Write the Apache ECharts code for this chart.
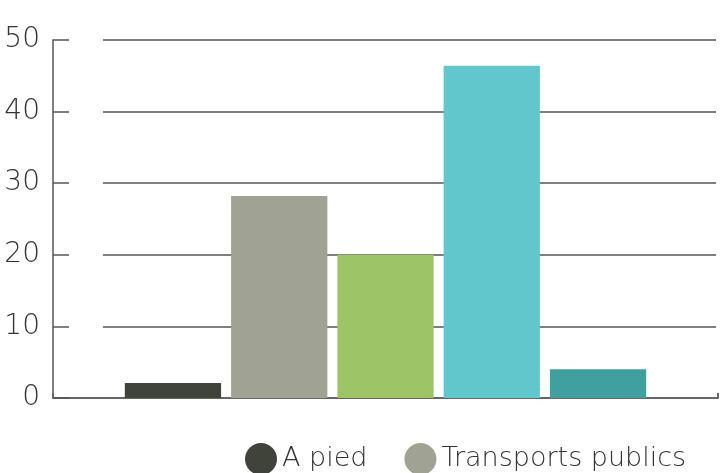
<!DOCTYPE html>
<html><head><meta charset="utf-8">
<script src="https://cdn.jsdelivr.net/npm/echarts@6/dist/echarts.min.js"></script>
<style>html,body{margin:0;padding:0;background:#fff}#c{width:721px;height:473px}</style>
</head><body><div id="c"></div>
<script>
const seriesNames = ["A pied", "Transports publics", "Vélo", "Voiture", "Autre"];
const seriesValues = [2.1, 28.2, 20, 46.4, 4];
const colors = ["#40433a", "#a0a394", "#9dc565", "#62c7cc", "#40a0a0"];
const yTicks = [0, 10, 20, 30, 40, 50];
const category = [""];

const font = "DejaVu Sans";
const chart = echarts.init(document.getElementById('c'));
const series = seriesNames.map((n, i) => ({
  name: n, type: 'bar', xAxisIndex: 0, yAxisIndex: 0,
  data: [seriesValues[i]],
  itemStyle: { color: colors[i] },
  barGap: '10.4%', barCategoryGap: '21.6%'
}));
chart.setOption({
  animation: false,
  color: colors,
  grid: [
    { left: 53, right: 3, top: 40, bottom: 75 },
    { left: 103, right: 5, top: 40, bottom: 75 }
  ],
  legend: {
    data: seriesNames, left: 240, top: 438, icon: 'circle',
    itemWidth: 32, itemHeight: 32, itemGap: 37,
    textStyle: { fontFamily: font, fontWeight: 200, fontSize: 27, color: '#333' }
  },
  xAxis: [
    { type: 'category', gridIndex: 0, data: category,
      axisLine: { lineStyle: { color: '#666', width: 2 } },
      axisTick: { show: true, inside: true, length: 5, lineStyle: { color: '#666', width: 2 } },
      axisLabel: { show: false } },
    { type: 'category', gridIndex: 1, data: category, show: false }
  ],
  yAxis: [
    { type: 'value', gridIndex: 0, min: 0, max: 50, interval: 10,
      axisLine: { show: true, lineStyle: { color: '#555', width: 1.5 } },
      axisTick: { show: true, inside: true, length: 16, lineStyle: { color: '#555', width: 1.5 } },
      splitLine: { show: false },
      axisLabel: { margin: 13, fontFamily: font, fontWeight: 200, fontSize: 28, color: '#333',
        formatter: v => yTicks.includes(v) ? String(v) : '' } },
    { type: 'value', gridIndex: 1, min: 0, max: 50, interval: 10,
      axisLine: { show: false }, axisTick: { show: false }, axisLabel: { show: false },
      splitLine: { show: true, lineStyle: { color: '#555', width: 1.5 } } }
  ],
  series: series.concat([{ type: 'bar', xAxisIndex: 1, yAxisIndex: 1, data: [], silent: true }])
});
</script></body></html>
